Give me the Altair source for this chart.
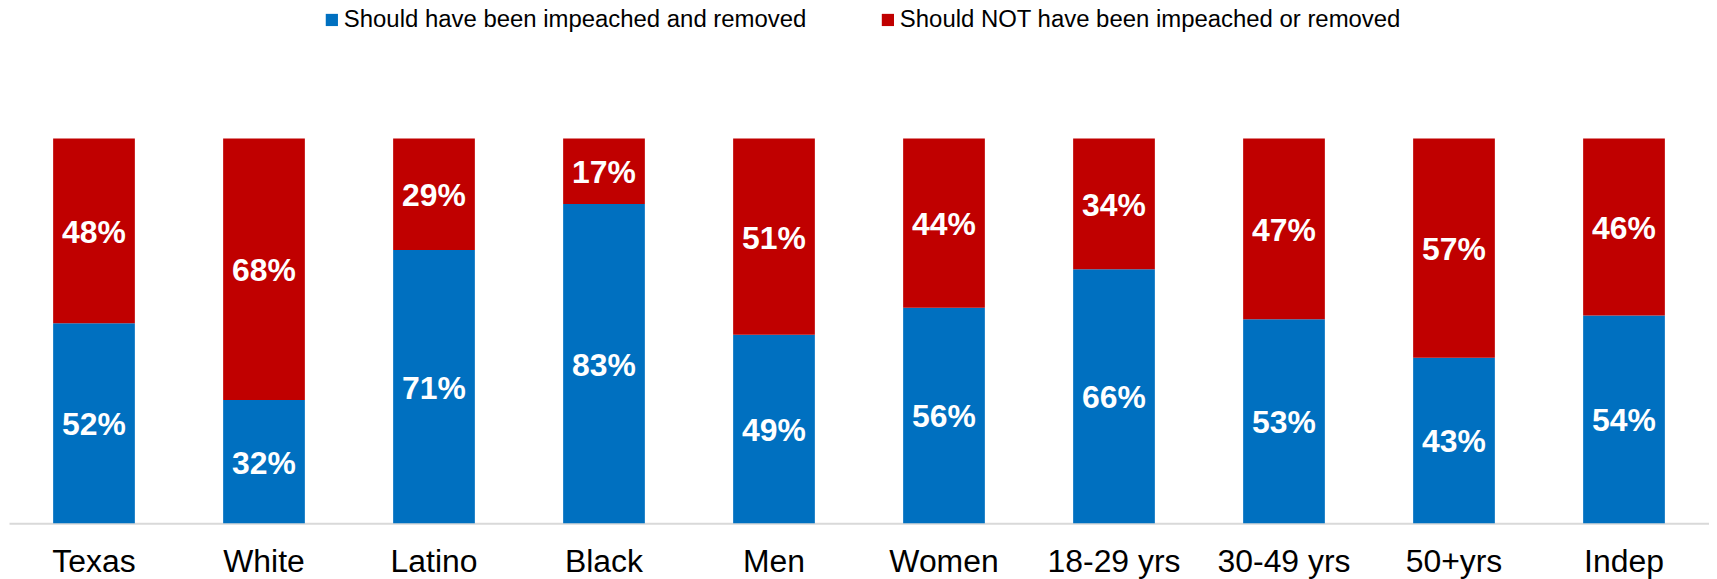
import altair as alt
import pandas as pd

categories = ["Texas", "White", "Latino", "Black", "Men", "Women", "18-29 yrs", "30-49 yrs", "50+yrs", "Indep"]
removed = [52, 32, 71, 83, 49, 56, 66, 53, 43, 54]
not_removed = [48, 68, 29, 17, 51, 44, 34, 47, 57, 46]
series = ["Should have been impeached and removed", "Should NOT have been impeached or removed"]
colors = ["#0070C0", "#C00000"]

rows = []
for c, a, b in zip(categories, removed, not_removed):
    rows.append({"cat": c, "series": series[0], "order": 0, "value": a})
    rows.append({"cat": c, "series": series[1], "order": 1, "value": b})
df = pd.DataFrame(rows)

FONT = "Liberation Sans"

base = alt.Chart(df).transform_stack(
    stack="value", groupby=["cat"], as_=["y0", "y1"], offset="normalize",
    sort=[alt.SortField("order", order="ascending")]
).transform_calculate(
    mid="(datum.y0 + datum.y1) / 2",
    label="datum.value + '%'"
)

x = alt.X("cat:N", sort=categories, title=None,
          scale=alt.Scale(paddingInner=0, paddingOuter=0),
          axis=alt.Axis(labelAngle=0, ticks=False, tickSize=0, grid=False,
                        domain=True, domainColor="#d9d9d9", domainWidth=2,
                        labelFontSize=32, labelFont=FONT, labelColor="#000000",
                        labelPadding=23))

bars = base.mark_bar(size=82).encode(
    x=x,
    y=alt.Y("y0:Q", scale=alt.Scale(domain=[0, 1]), axis=None),
    y2="y1:Q",
    color=alt.Color("series:N", sort=series,
                    scale=alt.Scale(domain=series, range=colors),
                    legend=alt.Legend(title=None, orient="none", direction="horizontal",
                                      legendX=312, legendY=-131,
                                      symbolType="square", symbolSize=150,
                                      symbolStrokeWidth=0, labelFontSize=24,
                                      labelFont=FONT, labelColor="#000000",
                                      labelOffset=0, columnPadding=69,
                                      padding=0, labelLimit=1000)),
)

text = base.mark_text(font=FONT, fontSize=32, fontWeight="bold", color="white",
                      baseline="middle", align="center", dy=2).encode(
    x=alt.X("cat:N", sort=categories),
    y=alt.Y("mid:Q", scale=alt.Scale(domain=[0, 1])),
    text="label:N",
)

chart = alt.layer(bars, text).properties(
    width=1706, height=386,
    padding={"left": 1, "top": 130, "right": 0, "bottom": 55},
    autosize=alt.AutoSizeParams(type="none"),
).configure_view(stroke=None)

chart.save("out.html", embed_options={"renderer": "svg", "actions": False})
